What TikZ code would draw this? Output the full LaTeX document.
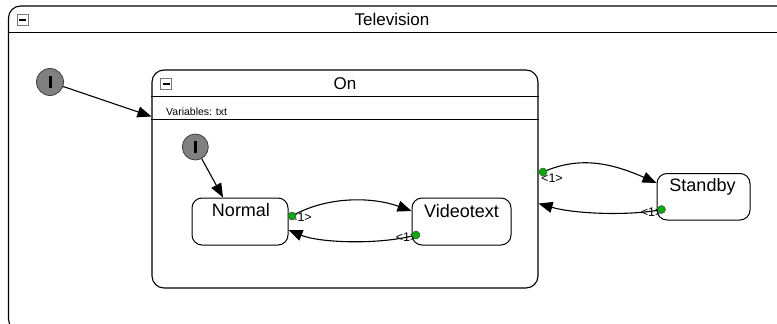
\documentclass[tikz,border=0pt]{standalone}
\usepackage{fontspec}
\setmainfont{Liberation Sans}
\usetikzlibrary{arrows.meta,calc}

\definecolor{initgray}{RGB}{128,128,128}
\definecolor{portgreen}{RGB}{0,175,0}
\definecolor{icongray}{RGB}{120,120,120}

\tikzset{
  container/.style={draw, line width=1.1pt, rounded corners=12pt, inner sep=0pt},
  statebox/.style={draw, line width=1pt, rounded corners=10pt, inner sep=0pt, fill=white},
  statetext/.style={font=\fontsize{18}{20}\selectfont, inner sep=0pt},
  titletext/.style={font=\fontsize{17}{19}\selectfont, inner sep=0pt},
  vartext/.style={font=\fontsize{10.5}{12}\selectfont, inner sep=0pt, anchor=west},
  porttext/.style={font=\fontsize{12.5}{14}\selectfont, inner sep=0pt},
  initstate/.style={circle, draw=black!75, line width=0.8pt, fill=initgray, minimum size=27pt, inner sep=0pt},
  port/.style={circle, draw=black!70, line width=0.5pt, fill=portgreen, minimum size=8pt, inner sep=0pt},
  collapsebox/.style={draw=icongray, line width=0.8pt, fill=white, minimum size=11pt, inner sep=0pt},
  trans/.style={line width=1.1pt, -{Triangle[length=14pt,width=11pt]}},
}

\begin{document}
\begin{tikzpicture}[x=1pt, y=-1pt]
  \clip (0,0) rectangle (777,324);

  % Television container
  \node[container, minimum width=791.5, minimum height=325] (tv) at (404.25,168.5) {};
  \draw[line width=1.1pt] ([yshift=-27pt]tv.north west) -- ([yshift=-27pt]tv.north east);
  \node[collapsebox] (tvicon) at (22.5,20) {};
  \draw[line width=1.6pt] ([xshift=-3.5pt]tvicon.center) -- ([xshift=3.5pt]tvicon.center);
  \node[titletext] (tvtitle) at (392,19.5) {Television};

  % On container
  \node[container, minimum width=386, minimum height=218] (on) at (345,179) {};
  \draw[line width=1.1pt] ([yshift=-27pt]on.north west) -- ([yshift=-27pt]on.north east);
  \draw[line width=1.1pt] ([yshift=-50pt]on.north west) -- ([yshift=-50pt]on.north east);
  \node[collapsebox] (onicon) at (166,84) {};
  \draw[line width=1.6pt] ([xshift=-3.5pt]onicon.center) -- ([xshift=3.5pt]onicon.center);
  \node[titletext] (ontitle) at (345,84) {On};
  \node[vartext] (onvars) at (166,111.5) {Variables: txt};

  % simple states
  \node[statebox, minimum width=96, minimum height=47] (normal) at (240,221.5) {};
  \node[statetext] at ($(normal.north)+(1,13)$) {Normal};
  \node[statebox, minimum width=99, minimum height=47] (videotext) at (461.5,221.5) {};
  \node[statetext] at ($(videotext.north)+(0,13.5)$) {Videotext};
  \node[statebox, minimum width=93, minimum height=46.5] (standby) at (703.5,196.75) {};
  \node[statetext] at ($(standby.north)+(-1,14)$) {Standby};

  % initial pseudostates
  \node[initstate] (tvinit) at (50,82) {};
  \fill ([xshift=-1.5pt,yshift=-6pt]tvinit.center) rectangle ([xshift=1.5pt,yshift=6pt]tvinit.center);
  \node[initstate, minimum size=26pt] (oninit) at (195.3,147) {};
  \fill ([xshift=-1.5pt,yshift=-6pt]oninit.center) rectangle ([xshift=1.5pt,yshift=6pt]oninit.center);

  \draw[trans] (tvinit) -- ([yshift=62.5pt]on.west);
  \draw[trans] (oninit) -- ([xshift=-17pt]normal.north);

  % transition labels (the ports sit on top of them)
  \node[porttext, anchor=west] (lnormal) at (290,217.5) {<1>};
  \node[porttext, anchor=east] (lvideo) at (417.5,237.5) {<1>};
  \node[porttext, anchor=west] (lon) at (541,178) {<1>};
  \node[porttext, anchor=east] (lstandby) at (662.5,212) {<1>};

  % transitions
  \draw[trans] (292,216) coordinate (pn) .. controls (325,197) and (370,196) .. ([yshift=10.5pt]videotext.west);
  \draw[trans] (416,235) coordinate (pv) .. controls (380,245) and (320,243) .. ([yshift=-8.5pt]normal.east);
  \draw[trans] (543,172) coordinate (po) .. controls (575,158) and (605,160) .. ([yshift=13.75pt]standby.west);
  \draw[trans] (661.5,209.5) coordinate (ps) .. controls (630,216) and (575,214) .. ([yshift=-24.5pt]on.east);

  % exit ports
  \node[port] (portnormal) at (pn) {};
  \node[port] (portvideo) at (pv) {};
  \node[port] (porton) at (po) {};
  \node[port] (portstandby) at (ps) {};
\end{tikzpicture}
\end{document}
